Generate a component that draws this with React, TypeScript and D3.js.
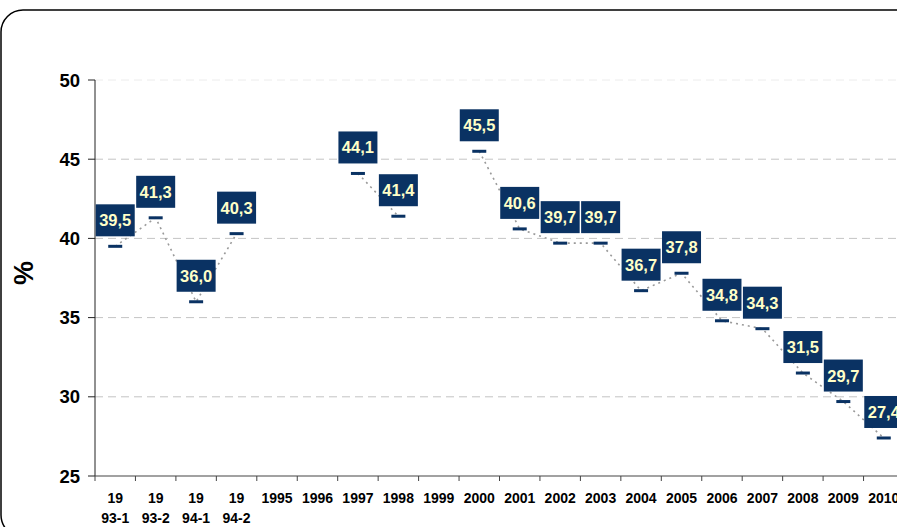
import React from "react";
import * as d3 from "d3";

const categories = [
  "19|93-1", "19|93-2", "19|94-1", "19|94-2", "1995", "1996", "1997", "1998", "1999", "2000",
  "2001", "2002", "2003", "2004", "2005", "2006", "2007", "2008", "2009", "2010",
];
const values: (number | null)[] = [
  39.5, 41.3, 36.0, 40.3, null, null, 44.1, 41.4, null, 45.5,
  40.6, 39.7, 39.7, 36.7, 37.8, 34.8, 34.3, 31.5, 29.7, 27.4,
];
const yTicks = [25, 30, 35, 40, 45, 50];

const W = 897;
const H = 527;
const NAVY = "#0a3263";
const LABEL = "#ffffc8";
const FONT = "Liberation Sans, Arial, sans-serif";

export default function App() {
  const x = d3.scaleBand<string>().domain(categories).range([95, 95 + 20 * 40.45]).padding(0);
  const y = d3.scaleLinear().domain([25, 50]).range([476, 80]);
  const pts = categories.map((c, i) => ({ c, v: values[i] }));
  const line = d3
    .line<{ c: string; v: number | null }>()
    .defined((d) => d.v != null)
    .x((d) => (x(d.c) as number) + x.bandwidth() / 2)
    .y((d) => y(d.v as number));

  return (
    <svg width={W} height={H} style={{ position: "absolute", left: 0, top: 0, fontFamily: FONT }}>
      <rect x={1} y={10} width={W + 20} height={H} rx={22} fill="#fff" stroke="#000" strokeWidth={1.5} />
      {/* grid */}
      {yTicks.filter((t) => t > 25).map((t) => (
        <line key={t} x1={95} x2={W} y1={y(t)} y2={y(t)} stroke={t === 50 ? "#ececec" : "#c4c4c4"} strokeDasharray="8,5" strokeWidth={1} />
      ))}
      {/* y axis */}
      <line x1={95} x2={95} y1={y(50)} y2={y(25)} stroke="#222" strokeWidth={1} />
      {yTicks.map((t) => (
        <g key={t}>
          <line x1={88} x2={95} y1={y(t)} y2={y(t)} stroke="#222" />
          <text x={80} y={y(t) + 6.5} textAnchor="end" fontSize={18.5} fontWeight="bold" fill="#000">{t}</text>
        </g>
      ))}
      <text transform="translate(33,273) rotate(-90)" textAnchor="middle" fontSize={27} fontWeight="bold" fill="#000">%</text>
      {/* x axis */}
      <line x1={95} x2={W} y1={y(25)} y2={y(25)} stroke="#444" strokeWidth={1.2} />
      {categories.map((c, i) => {
        const x0 = x(c) as number;
        const cx = x0 + x.bandwidth() / 2;
        const parts = c.split("|");
        return (
          <g key={c}>
            <line x1={x0} x2={x0} y1={476} y2={481} stroke="#444" />
            {i === categories.length - 1 && (
              <line x1={x0 + x.bandwidth()} x2={x0 + x.bandwidth()} y1={476} y2={481} stroke="#444" />
            )}
            {parts.map((p, j) => (
              <text key={j} x={cx} y={503 + j * 20} textAnchor="middle" fontSize={14} fontWeight="bold" fill="#000">{p}</text>
            ))}
          </g>
        );
      })}
      {/* connecting line */}
      <path d={line(pts) || ""} fill="none" stroke="#9a9a9a" strokeWidth={1.6} strokeDasharray="2,4" />
      {/* markers and labels */}
      {pts.map((d) => {
        if (d.v == null) return null;
        const cx = (x(d.c) as number) + x.bandwidth() / 2;
        const cy = y(d.v);
        return (
          <g key={d.c}>
            <rect x={cx - 7} y={cy - 1.5} width={14} height={3} fill={NAVY} />
            <rect x={cx - 19.5} y={cy - 10 - 32} width={39} height={32} fill={NAVY} />
            <text x={cx} y={cy - 10 - 10} textAnchor="middle" fontSize={16.5} fontWeight="bold" fill={LABEL}>
              {d.v.toFixed(1).replace(".", ",")}
            </text>
          </g>
        );
      })}
    </svg>
  );
}
